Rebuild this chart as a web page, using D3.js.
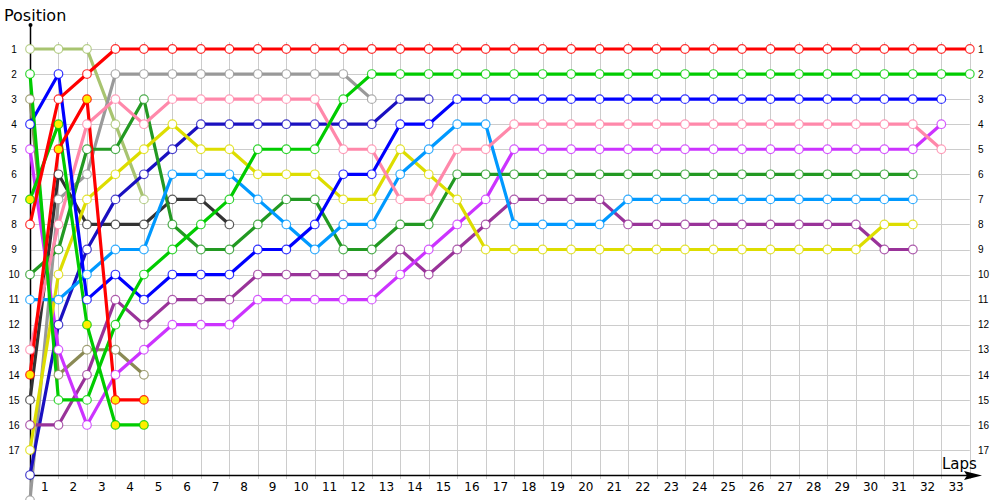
<!DOCTYPE html>
<html lang="en">
<head>
<meta charset="UTF-8">
<title>Lap Chart</title>
<script src="https://d3js.org/d3.v7.min.js"></script>
<style>
    body { margin: 0; background: #fff; }
    svg { display: block; font-family: "DejaVu Sans", Verdana, sans-serif; }
</style>
</head>
<body>
<div id="chart"></div>
<script>
    // positions per lap (index 0 = grid), one array per car
    var lightOlive = [1, 1, 1, 4, 7];
    var green = [2, 15, 15, 12, 10, 9, 8, 7, 5, 5, 5, 3, 2, 2, 2, 2, 2, 2, 2, 2, 2, 2, 2, 2, 2, 2, 2, 2, 2, 2, 2, 2, 2, 2];
    var olive = [3, 14, 13, 13, 14];
    var blue = [4, 2, 11, 10, 11, 10, 10, 10, 9, 9, 8, 6, 6, 4, 4, 3, 3, 3, 3, 3, 3, 3, 3, 3, 3, 3, 3, 3, 3, 3, 3, 3, 3];
    var violet = [5, 13, 16, 14, 13, 12, 12, 12, 11, 11, 11, 11, 11, 10, 9, 8, 7, 5, 5, 5, 5, 5, 5, 5, 5, 5, 5, 5, 5, 5, 5, 5, 4];
    var greenYellow = [7, 4, 12, 16, 16];
    var red = [8, 3, 2, 1, 1, 1, 1, 1, 1, 1, 1, 1, 1, 1, 1, 1, 1, 1, 1, 1, 1, 1, 1, 1, 1, 1, 1, 1, 1, 1, 1, 1, 1, 1];
    var darkGreen = [10, 9, 5, 5, 3, 8, 9, 9, 8, 7, 7, 9, 9, 8, 8, 6, 6, 6, 6, 6, 6, 6, 6, 6, 6, 6, 6, 6, 6, 6, 6, 6];
    var lightBlue = [11, 11, 10, 9, 9, 6, 6, 6, 7, 8, 9, 8, 8, 6, 5, 4, 4, 8, 8, 8, 8, 7, 7, 7, 7, 7, 7, 7, 7, 7, 7, 7];
    var pink = [13, 8, 4, 3, 4, 3, 3, 3, 3, 3, 3, 5, 5, 7, 7, 5, 5, 4, 4, 4, 4, 4, 4, 4, 4, 4, 4, 4, 4, 4, 4, 4, 5];
    var redYellow = [14, 5, 3, 15, 15];
    var black = [15, 6, 8, 8, 8, 7, 7, 8];
    var purple = [16, 16, 14, 11, 12, 11, 11, 11, 10, 10, 10, 10, 10, 9, 10, 9, 8, 7, 7, 7, 7, 8, 8, 8, 8, 8, 8, 8, 8, 8, 9, 9];
    var yellow = [17, 10, 7, 6, 5, 4, 5, 5, 6, 6, 6, 7, 7, 5, 6, 7, 9, 9, 9, 9, 9, 9, 9, 9, 9, 9, 9, 9, 9, 9, 8, 8];
    var navy = [18, 12, 9, 7, 6, 5, 4, 4, 4, 4, 4, 4, 4, 3, 3];
    var gray = [19, 7, 6, 2, 2, 2, 2, 2, 2, 2, 2, 2, 3];

    var lapLabels = d3.range(1, 34);
    var positionLabels = d3.range(1, 18);

    // drawing order, bottom first
    var cars = [
        { name: "olive", pos: olive },
        { name: "lightOlive", pos: lightOlive },
        { name: "black", pos: black },
        { name: "gray", pos: gray },
        { name: "navy", pos: navy },
        { name: "purple", pos: purple },
        { name: "violet", pos: violet },
        { name: "darkGreen", pos: darkGreen },
        { name: "yellow", pos: yellow },
        { name: "lightBlue", pos: lightBlue },
        { name: "pink", pos: pink },
        { name: "blue", pos: blue },
        { name: "greenYellow", pos: greenYellow },
        { name: "green", pos: green },
        { name: "redYellow", pos: redYellow },
        { name: "red", pos: red }
    ];

    var lineColor = {
        olive: "#8a8a55", lightOlive: "#a8c470", black: "#333333", gray: "#999999",
        navy: "#1a10c0", purple: "#993399", violet: "#cc33ff", darkGreen: "#229922",
        yellow: "#dddd00", lightBlue: "#0099ff", pink: "#ff88aa", blue: "#0000ff",
        greenYellow: "#00cc00", green: "#00cc00", redYellow: "#ff0000", red: "#ff0000"
    };
    var dotFill = { greenYellow: "#ffee00", redYellow: "#ffee00" };

    var width = 1000, height = 500;

    var svg = d3.select("#chart").append("svg")
        .attr("width", width)
        .attr("height", height);

    var x = d3.scaleLinear().domain([0, 33]).range([30, 969.8]);
    var y = d3.scaleLinear().domain([1, 17]).range([49, 450]);

    // grid
    var grid = svg.append("g").attr("stroke", "#cccccc").attr("stroke-width", 1);
    grid.selectAll(".h").data(positionLabels).enter().append("line")
        .attr("x1", x(0)).attr("x2", x(33))
        .attr("y1", d => Math.round(y(d)) + 0.5).attr("y2", d => Math.round(y(d)) + 0.5);
    grid.selectAll(".v").data(d3.range(1, 34)).enter().append("line")
        .attr("x1", d => Math.round(x(d)) + 0.5).attr("x2", d => Math.round(x(d)) + 0.5)
        .attr("y1", 42).attr("y2", 479);

    // x axis (labels sit between lap lines)
    var xAxis = svg.append("g")
        .attr("transform", "translate(0," + (Math.round(y(18)) + 0.5) + ")")
        .call(d3.axisBottom(x)
            .tickValues(lapLabels.map(d => d - 0.5))
            .tickFormat(d => d + 0.5)
            .tickSize(0)
            .tickPadding(7));
    xAxis.select(".domain").remove();
    xAxis.selectAll("text").attr("font-size", 12).attr("font-family", "DejaVu Sans, sans-serif").attr("fill", "#000");
    svg.append("line")
        .attr("x1", x(0)).attr("x2", 972)
        .attr("y1", Math.round(y(18)) + 0.5).attr("y2", Math.round(y(18)) + 0.5)
        .attr("stroke", "#000").attr("stroke-width", 1.5);
    svg.append("path")
        .attr("d", "M982,475.5 L964,471 L967,475.5 L964,480 Z")
        .attr("fill", "#000");

    // y axis labels on both sides
    var yLeft = svg.append("g")
        .attr("transform", "translate(22,0)")
        .call(d3.axisLeft(y).tickValues(positionLabels).tickFormat(d3.format("d")).tickSize(0).tickPadding(0));
    yLeft.select(".domain").remove();
    yLeft.selectAll("text").attr("font-size", 10).attr("text-anchor", "middle").attr("dx", -8).attr("fill", "#000");

    var yRight = svg.append("g")
        .attr("transform", "translate(978,0)")
        .call(d3.axisRight(y).tickValues(positionLabels).tickFormat(d3.format("d")).tickSize(0).tickPadding(0));
    yRight.select(".domain").remove();
    yRight.selectAll("text").attr("font-size", 10).attr("fill", "#000");

    svg.append("line")
        .attr("x1", 30.5).attr("x2", 30.5)
        .attr("y1", 25).attr("y2", height)
        .attr("stroke", "#000").attr("stroke-width", 1.5);
    svg.append("circle").attr("cx", 30.5).attr("cy", 25).attr("r", 2).attr("fill", "#000");

    svg.append("text").attr("x", 4).attr("y", 21).attr("font-size", 16).text("Position");
    svg.append("text").attr("x", 942).attr("y", 469).attr("font-size", 15).text("Laps");

    // lines
    var line = d3.line()
        .x((d, i) => x(i))
        .y(d => y(d));

    var plot = svg.append("g");
    cars.forEach(function (car) {
        var g = plot.append("g");
        g.append("path")
            .datum(car.pos)
            .attr("fill", "none")
            .attr("stroke", lineColor[car.name])
            .attr("stroke-width", 3.2)
            .attr("stroke-linejoin", "round")
            .attr("d", line);
    });
    cars.forEach(function (car) {
        plot.append("g").selectAll("circle")
            .data(car.pos)
            .enter()
            .append("circle")
            .attr("cx", (d, i) => x(i))
            .attr("cy", d => y(d))
            .attr("r", 4.3)
            .attr("fill", dotFill[car.name] || "#fff")
            .attr("stroke", lineColor[car.name])
            .attr("stroke-opacity", 0.8)
            .attr("stroke-width", 1.2);
    });
</script>
</body>
</html>
